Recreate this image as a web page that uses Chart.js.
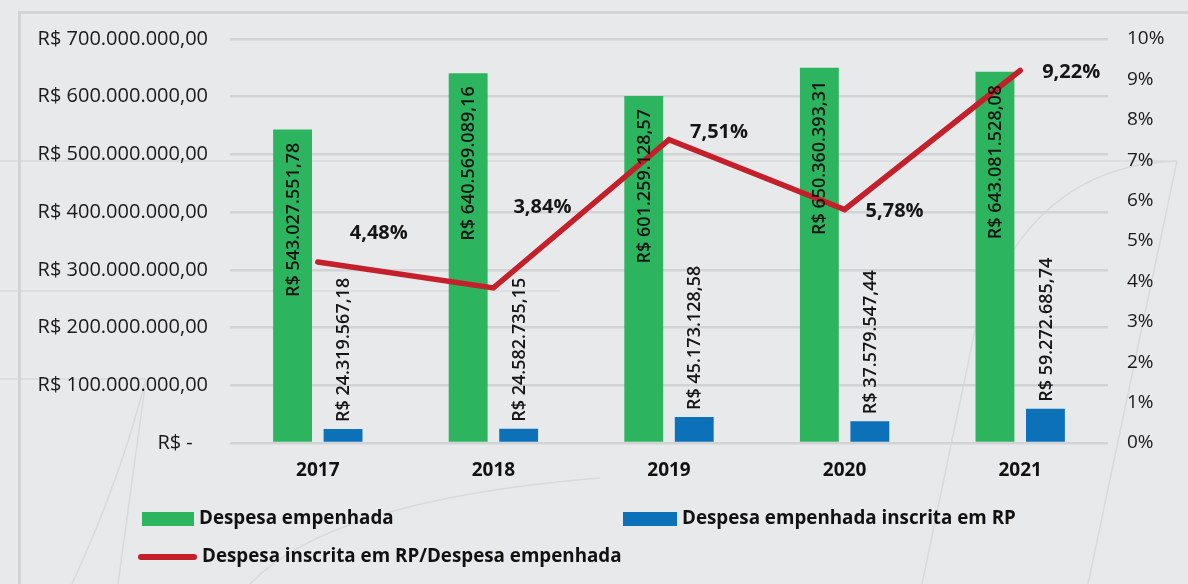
<!DOCTYPE html>
<html lang="pt-BR">
<head>
<meta charset="utf-8">
<title>Despesa empenhada x inscrita em RP</title>
<script src="https://cdn.jsdelivr.net/npm/chart.js@4.4.1/dist/chart.umd.min.js"></script>
<style>
  html, body { margin: 0; padding: 0; background: #e8e9eb; overflow: hidden; }
  #wrap { width: 1188px; height: 584px; position: relative; }
</style>
</head>
<body>
<div id="wrap"><canvas id="grafico" width="1188" height="584"></canvas></div>
<script>
// anos e valores (R$) / percentual inscrito em RP
const anos = ["2017", "2018", "2019", "2020", "2021"];
const despesaEmpenhada = [543027551.78, 640569089.16, 601259128.57, 650360393.31, 643081528.08];
const despesaInscritaRP = [24319567.18, 24582735.15, 45173128.58, 37579547.44, 59272685.74];
const percentualRP = [4.48, 3.84, 7.51, 5.78, 9.22];

const nomes = ["Despesa empenhada", "Despesa empenhada inscrita em RP", "Despesa inscrita em RP/Despesa empenhada"];

const VERDE = "#2db45f", AZUL = "#0d71b9", VERMELHO = "#c4202b";
const FONTE = "'Open Sans', sans-serif";

// deslocamento dos rótulos de % em relação ao ponto da linha
const offsetPct = [[61, -29], [49, -81], [50, -7], [50, 2], [51, 2]];

function brl(v) {
  const [int, dec] = v.toFixed(2).split(".");
  return "R$ " + int.replace(/\B(?=(\d{3})+(?!\d))/g, ".") + "," + dec;
}
function pct(v) { return v.toFixed(2).replace(".", ",") + "%"; }

// moldura e traços claros do fundo
const fundo = {
  id: "fundo",
  beforeDraw(chart) {
    const ctx = chart.ctx;
    ctx.save();
    ctx.strokeStyle = "#d9dadc";
    ctx.lineWidth = 1.5;
    ctx.beginPath();
    ctx.moveTo(0, 161); ctx.lineTo(1177, 161);
    ctx.moveTo(0, 291); ctx.lineTo(560, 291);
    ctx.moveTo(0, 379); ctx.lineTo(146, 379);
    ctx.moveTo(146, 379); ctx.lineTo(118, 584);
    ctx.moveTo(146, 379); ctx.quadraticCurveTo(120, 480, 72, 584);
    ctx.moveTo(1177, 161); ctx.lineTo(1088, 584);
    ctx.moveTo(1177, 161); ctx.quadraticCurveTo(1030, 165, 975, 330);
    ctx.lineTo(922, 584);
    ctx.moveTo(250, 584); ctx.quadraticCurveTo(330, 500, 600, 478);
    ctx.stroke();
    ctx.strokeStyle = "#d2d3d5";
    ctx.lineWidth = 3;
    ctx.beginPath();
    ctx.moveTo(19.5, 584); ctx.lineTo(19.5, 12.5); ctx.lineTo(1188, 12.5);
    ctx.stroke();
    ctx.restore();
  }
};

// rótulos de valores nas barras e na linha
const rotulos = {
  id: "rotulos",
  afterDatasetsDraw(chart) {
    const ctx = chart.ctx;
    ctx.save();
    ctx.fillStyle = "#151515";
    ctx.textBaseline = "middle";
    ctx.font = "600 18px " + FONTE;
    chart.getDatasetMeta(0).data.forEach((bar, i) => {
      ctx.save();
      ctx.translate(bar.x + 1, bar.y + 13);
      ctx.rotate(-Math.PI / 2);
      ctx.textAlign = "right";
      ctx.fillText(brl(despesaEmpenhada[i]), 0, 0);
      ctx.restore();
    });
    chart.getDatasetMeta(1).data.forEach((bar, i) => {
      ctx.save();
      ctx.translate(bar.x + 1, bar.y - 7);
      ctx.rotate(-Math.PI / 2);
      ctx.textAlign = "left";
      ctx.fillText(brl(despesaInscritaRP[i]), 0, 0);
      ctx.restore();
    });
    ctx.font = "bold 20px " + FONTE;
    ctx.textAlign = "center";
    chart.getDatasetMeta(2).data.forEach((pt, i) => {
      ctx.fillText(pct(percentualRP[i]), pt.x + offsetPct[i][0], pt.y + offsetPct[i][1]);
    });
    ctx.restore();
  }
};

// legenda em duas colunas
const legenda = {
  id: "legenda",
  afterDraw(chart) {
    const ctx = chart.ctx;
    const itens = [
      { x: 142, y: 519, w: 52, tipo: "caixa" },
      { x: 623, y: 519, w: 54, tipo: "caixa" },
      { x: 138, y: 557, w: 59, tipo: "linha" }
    ];
    ctx.save();
    ctx.font = "bold 18.8px " + FONTE;
    ctx.textBaseline = "middle";
    ctx.textAlign = "left";
    chart.data.datasets.forEach((ds, i) => {
      const it = itens[i];
      if (it.tipo === "caixa") {
        ctx.fillStyle = ds.backgroundColor;
        ctx.fillRect(it.x, it.y - 7, it.w, 14);
      } else {
        ctx.strokeStyle = ds.borderColor;
        ctx.lineWidth = 6;
        ctx.lineCap = "round";
        ctx.beginPath();
        ctx.moveTo(it.x + 3, it.y); ctx.lineTo(it.x + it.w - 3, it.y);
        ctx.stroke();
      }
      ctx.fillStyle = "#111";
      ctx.fillText(ds.label, it.x + it.w + 5, it.y);
    });
    ctx.restore();
  }
};

new Chart(document.getElementById("grafico"), {
  data: {
    labels: anos,
    datasets: [
      { type: "bar", label: nomes[0], data: despesaEmpenhada, backgroundColor: VERDE,
        yAxisID: "y", order: 2, categoryPercentage: 0.575, barPercentage: 0.77 },
      { type: "bar", label: nomes[1], data: despesaInscritaRP, backgroundColor: AZUL,
        yAxisID: "y", order: 2, categoryPercentage: 0.575, barPercentage: 0.77 },
      { type: "line", label: nomes[2], data: percentualRP, borderColor: VERMELHO, backgroundColor: VERMELHO,
        borderWidth: 5.5, borderCapStyle: "round", borderJoinStyle: "miter", pointRadius: 0,
        tension: 0, yAxisID: "y1", order: 1 }
    ]
  },
  options: {
    responsive: false,
    animation: false,
    layout: { padding: { top: 39, bottom: 101, left: 0, right: 0 } },
    plugins: { legend: { display: false }, tooltip: { enabled: false } },
    scales: {
      x: {
        grid: { display: false, drawTicks: false },
        border: { display: false },
        ticks: { color: "#111", font: { family: FONTE, size: 19, weight: "bold" }, padding: 16 },
        afterFit: s => { s.height = 40; }
      },
      y: {
        position: "left",
        min: 0, max: 700000000,
        grid: { color: "#d2d3d5", lineWidth: 2.5, drawTicks: false },
        border: { display: false },
        ticks: {
          stepSize: 100000000, padding: 22, color: "#1a1a1a",
          font: { family: FONTE, size: 20 },
          callback: v => v === 0 ? "R$ -\u2002 " : brl(v)
        },
        afterFit: s => { s.width = 230; }
      },
      y1: {
        position: "right",
        min: 0, max: 10,
        grid: { display: false, drawTicks: false },
        border: { display: false },
        ticks: { stepSize: 1, padding: 19, color: "#1a1a1a", font: { family: FONTE, size: 19 },
          callback: v => v + "%" },
        afterFit: s => { s.width = 80; }
      }
    }
  },
  plugins: [fundo, rotulos, legenda]
});
</script>
</body>
</html>
